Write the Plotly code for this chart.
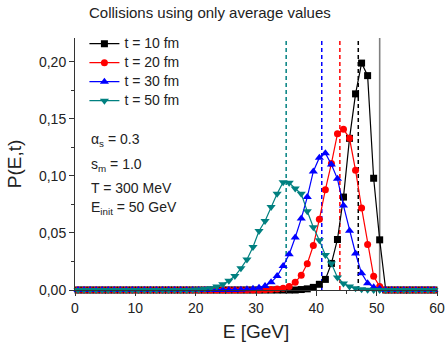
import plotly.graph_objects as go

# Energy bin centres [GeV]
energy = [0.5, 1.5, 2.5, 3.5, 4.5, 5.5, 6.5, 7.5, 8.5, 9.5,
          10.5, 11.5, 12.5, 13.5, 14.5, 15.5, 16.5, 17.5, 18.5, 19.5,
          20.5, 21.5, 22.5, 23.5, 24.5, 25.5, 26.5, 27.5, 28.5, 29.5,
          30.5, 31.5, 32.5, 33.5, 34.5, 35.5, 36.5, 37.5, 38.5, 39.5,
          40.5, 41.5, 42.5, 43.5, 44.5, 45.5, 46.5, 47.5, 48.5, 49.5,
          50.5, 51.5, 52.5, 53.5, 54.5, 55.5, 56.5, 57.5, 58.5, 59.5]

# P(E,t) for each time
p_t10 = [0, 0, 0, 0, 0, 0, 0, 0, 0, 0,
         0, 0, 0, 0, 0, 0, 0, 0, 0, 0,
         0, 0, 0, 0, 0, 0, 0, 0, 0, 0,
         0, 0, 0, 0, 0, 0, 0, 0.0004, 0.001, 0.0023,
         0.005, 0.0093, 0.0233, 0.0443, 0.0815, 0.133, 0.172, 0.199, 0.188, 0.098,
         0.044, 0, 0, 0, 0, 0, 0, 0, 0, 0]

p_t20 = [0, 0, 0, 0, 0, 0, 0, 0, 0, 0,
         0, 0, 0, 0, 0, 0, 0, 0, 0, 0,
         0, 0, 0, 0, 0, 0, 0, 0, 0, 0,
         0, 0.0003, 0.0005, 0.0008, 0.0015, 0.003, 0.0067, 0.013, 0.023, 0.039,
         0.062, 0.088, 0.111, 0.137, 0.141, 0.133, 0.105, 0.072, 0.040, 0.012,
         0.003, 0, 0, 0, 0, 0, 0, 0, 0, 0]

p_t30 = [0, 0, 0, 0, 0, 0, 0, 0, 0, 0,
         0, 0, 0, 0, 0, 0, 0, 0, 0, 0,
         0, 0, 0, 0, 0, 0, 0, 0.0003, 0.0006, 0.001,
         0.002, 0.0035, 0.0067, 0.0122, 0.021, 0.0314, 0.046, 0.0626, 0.0815, 0.104,
         0.116, 0.120, 0.110, 0.0975, 0.074, 0.052, 0.032, 0.0146, 0.006, 0.0025,
         0.001, 0, 0, 0, 0, 0, 0, 0, 0, 0]

p_t50 = [0, 0, 0, 0, 0, 0, 0, 0, 0, 0,
         0, 0, 0, 0, 0, 0, 0, 0, 0, 0.0002,
         0.0004, 0.0008, 0.0015, 0.003, 0.005, 0.0081, 0.0122, 0.019, 0.0268, 0.0378,
         0.0518, 0.0605, 0.0728, 0.0844, 0.0946, 0.094, 0.089, 0.0844, 0.069, 0.055,
         0.0437, 0.0306, 0.0233, 0.011, 0.0058, 0.003, 0.0015, 0.0007, 0.0003, 0,
         0, 0, 0, 0, 0, 0, 0, 0, 0, 0]

series_names = ["t = 10 fm", "t = 20 fm", "t = 30 fm", "t = 50 fm"]
series_values = [p_t10, p_t20, p_t30, p_t50]
series_colors = ["#000000", "#ff0000", "#0000ff", "#008080"]
series_symbols = ["square", "circle", "triangle-up", "triangle-down"]
series_sizes = [7, 7, 8, 8]

# Mean energy of each distribution [GeV]
mean_energy = [46.95, 43.9, 40.9, 35.0]
# Initial jet energy bin
initial_energy = 50.5

x_ticks = [0, 10, 20, 30, 40, 50, 60]
y_ticks = [0.0, 0.05, 0.10, 0.15, 0.20]
y_ticktext = ["0,00", "0,05", "0,10", "0,15", "0,20"]

params = ["α<sub>s</sub> = 0.3", "s<sub>m</sub> = 1.0", "T = 300 MeV",
          "E<sub>init</sub> = 50 GeV"]
param_y = [0.1318, 0.1092, 0.0897, 0.0718]

FONT = "Liberation Sans, Arial, sans-serif"

fig = go.Figure()
for name, vals, col, sym, sz in zip(series_names, series_values, series_colors,
                                    series_symbols, series_sizes):
    fig.add_trace(go.Scatter(
        x=energy, y=vals, mode="lines+markers",
        # legend rows are packed tighter than the label size would allow
        name='<span style="font-size:14px">%s</span>' % name,
        line=dict(color=col, width=1.2),
        marker=dict(symbol=sym, size=sz, color=col, line=dict(width=0)),
        cliponaxis=False,
    ))

shapes = [dict(type="line", xref="x", yref="paper", x0=initial_energy,
               x1=initial_energy, y0=0, y1=1,
               line=dict(color="#808080", width=1.6), layer="below")]
for m, col in zip(mean_energy, series_colors):
    shapes.append(dict(type="line", xref="x", yref="paper", x0=m, x1=m,
                       y0=0, y1=1, line=dict(color=col, width=1.5,
                                             dash="4px,3px"),
                       layer="below"))

annotations = [dict(text="Collisions using only average values", xref="paper",
                    yref="paper", x=(87 - 75) / 362, y=1.0, yshift=26,
                    xanchor="left", yanchor="middle", showarrow=False,
                    font=dict(size=15, color="#222222", family=FONT))]
for txt, yy in zip(params, param_y):
    annotations.append(dict(text=txt, xref="x", yref="y", x=2.3, y=yy,
                            xanchor="left", yanchor="middle", showarrow=False,
                            font=dict(size=14, color="#222222", family=FONT)))

fig.update_layout(
    width=446, height=342,
    margin=dict(l=75, r=9, t=38, b=52),
    paper_bgcolor="white", plot_bgcolor="white",
    font=dict(family=FONT, size=14, color="#222222"),
    showlegend=True,
    legend=dict(x=0.026, y=1.035, xanchor="left", yanchor="top",
                bgcolor="rgba(0,0,0,0)", font=dict(size=12, family=FONT),
                itemwidth=30, tracegroupgap=0),
    shapes=shapes,
    annotations=annotations,
    xaxis=dict(range=[0, 60], tickvals=x_ticks, showline=True, automargin=False,
               linecolor="#333333", linewidth=1, ticks="outside", ticklen=5,
               tickcolor="#333333", showgrid=False, zeroline=False,
               minor=dict(dtick=5, ticks="outside", ticklen=3,
                          tickcolor="#333333"),
               title=dict(text="E [GeV]", font=dict(size=19), standoff=16)),
    yaxis=dict(range=[0, 0.221], tickvals=y_ticks, ticktext=y_ticktext,
               automargin=False,
               showline=True, linecolor="#333333", linewidth=1,
               ticks="outside", ticklen=5, tickcolor="#333333",
               showgrid=False, zeroline=False,
               minor=dict(dtick=0.025, ticks="outside", ticklen=3,
                          tickcolor="#333333"),
               title=dict(text="P(E,t)", font=dict(size=19), standoff=12)),
)

fig.write_html("out.html")
